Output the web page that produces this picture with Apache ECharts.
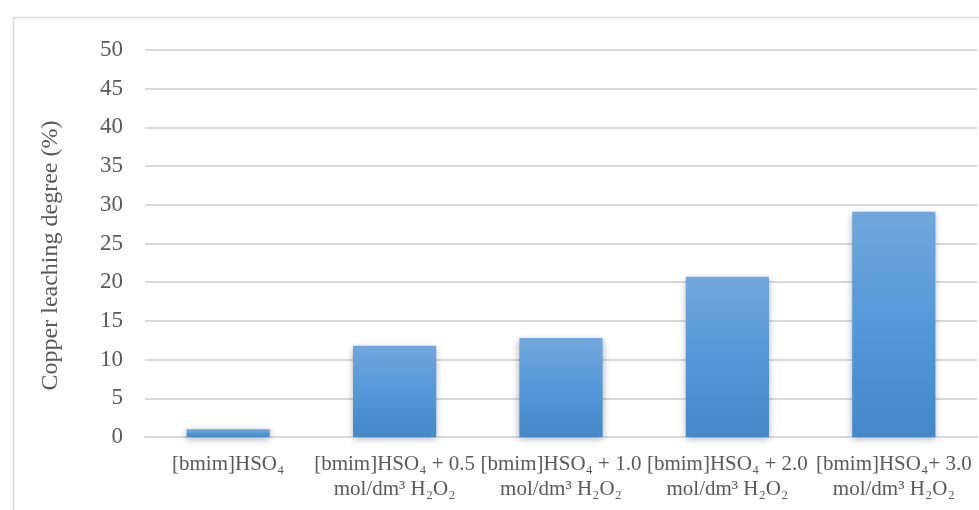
<!DOCTYPE html>
<html>
<head>
<meta charset="utf-8">
<script src="https://cdn.jsdelivr.net/npm/echarts@6/dist/echarts.min.js"></script>
<style>
html,body{margin:0;padding:0;background:#fff;}
#c{width:979px;height:510px;}
</style>
</head>
<body>
<div id="c"></div>
<script>
var categories = [
  "[bmim]HSO₄",
  "[bmim]HSO₄ + 0.5\nmol/dm³ H₂O₂",
  "[bmim]HSO₄ + 1.0\nmol/dm³ H₂O₂",
  "[bmim]HSO₄ + 2.0\nmol/dm³ H₂O₂",
  "[bmim]HSO₄+ 3.0\nmol/dm³ H₂O₂"
];
var leaching = [1.0, 11.8, 12.8, 20.7, 29.1];
var yMin = 0, yMax = 50, yInterval = 5;
var yTitle = "Copper leaching degree (%)";

var chart = echarts.init(document.getElementById('c'), null, {renderer: 'canvas'});
var font = '"Liberation Serif", "Times New Roman", serif';
chart.setOption({
  animation: false,
  backgroundColor: '#fff',
  graphic: [{
    type: 'rect', left: 11, top: 15, silent: true, z: -1,
    shape: {width: 1000, height: 600},
    style: {fill: 'none', stroke: '#d9d9d9', lineWidth: 1.5}
  }],
  grid: {left: 145, right: 2, top: 50, bottom: 73},
  xAxis: {
    type: 'category',
    data: categories,
    axisLine: {show: true, lineStyle: {color: '#d9d9d9', width: 2}},
    axisTick: {show: false},
    axisLabel: {interval: 0, color: '#595959', fontFamily: font, fontSize: 21, lineHeight: 25, margin: 15}
  },
  yAxis: {
    type: 'value',
    min: yMin, max: yMax, interval: yInterval,
    name: yTitle, nameLocation: 'middle', nameGap: 82, nameRotate: 90,
    nameTextStyle: {color: '#595959', fontFamily: font, fontSize: 24, padding: [0, 24, 0, 0]},
    axisLine: {show: false},
    axisTick: {show: false},
    axisLabel: {color: '#595959', fontFamily: font, fontSize: 23, margin: 22},
    splitLine: {lineStyle: {color: '#d9d9d9', width: 2}}
  },
  series: [{
    type: 'bar',
    data: leaching,
    barWidth: '50%',
    itemStyle: {
      color: new echarts.graphic.LinearGradient(0, 0, 0, 1, [
        {offset: 0, color: '#71a7dd'},
        {offset: 0.5, color: '#5598d8'},
        {offset: 1, color: '#4488c8'}
      ]),
      shadowColor: 'rgba(0,0,0,0.35)',
      shadowBlur: 7,
      shadowOffsetY: 2
    }
  }]
});
</script>
</body>
</html>
